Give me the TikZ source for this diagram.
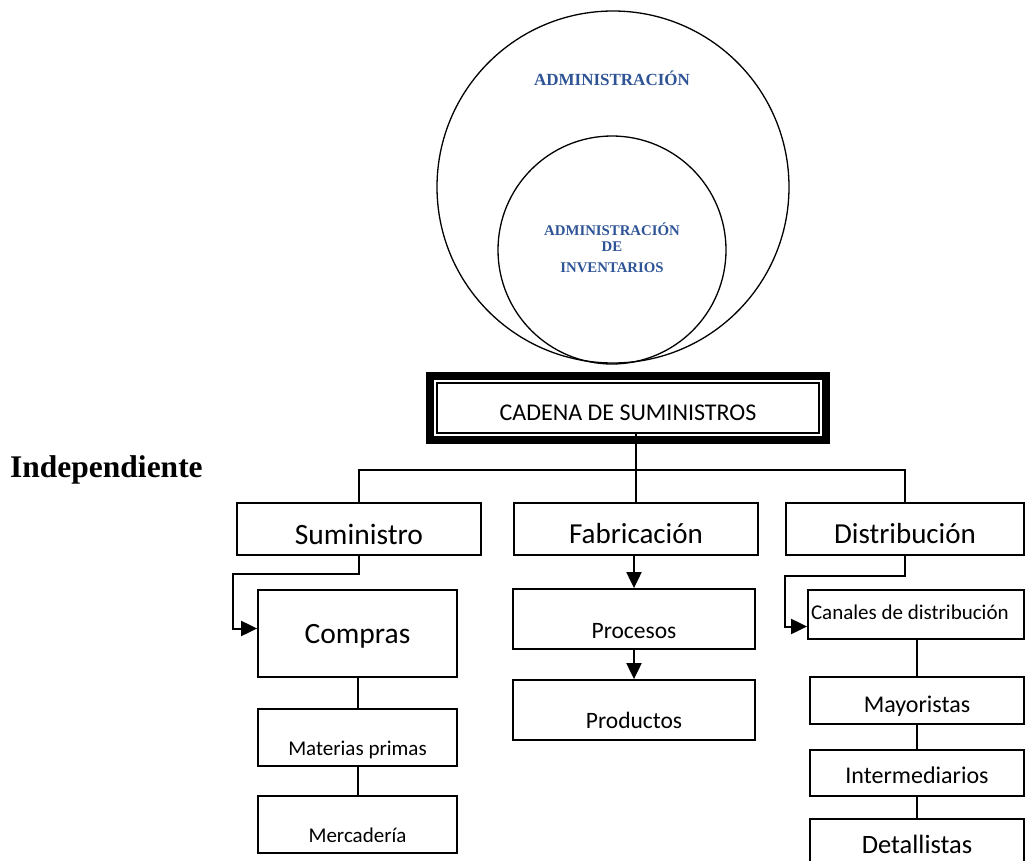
\documentclass[tikz,border=0pt]{standalone}
\usepackage{fontspec}
\setmainfont{Liberation Serif}
\newfontfamily\carlito{Carlito}
\usetikzlibrary{arrows.meta,calc}
\definecolor{admblue}{RGB}{46,84,150}
\newcommand{\sz}[1]{\fontsize{#1}{#1}\selectfont}
\tikzset{box/.style={draw, line width=1.8pt, inner sep=0pt, text depth=0pt, font=\carlito}}
\tikzset{wire/.style={line width=2pt}}
\tikzset{arr/.style={wire, -{Triangle[length=16pt,width=15pt]}}}
\tikzset{ring/.style={circle, draw, line width=1.3pt, inner sep=0pt}}

\begin{document}
\begin{tikzpicture}[x=1pt,y=-1pt]
\clip (0,0) rectangle (1028,861);
% circles
\node[ring, minimum size=352pt] (adm) at (613,187) {};
\node[ring, minimum size=228pt] (inv) at (612,250) {};
\node[font=\bfseries\sz{17}, text=admblue, anchor=base] (admtxt) at (612,86) {ADMINISTRACIÓN};
\node[font=\bfseries\fontsize{14.8}{16}\selectfont, text=admblue, align=center] (invtxt) at (612,248) {ADMINISTRACIÓN\\DE\\[5pt]INVENTARIOS};
\node[font=\bfseries\sz{31.5}, anchor=base west, inner sep=0pt] (indep) at (10,477) {Independiente};
% chain
\node[box, line width=1.5pt, minimum width=382pt, minimum height=50pt, text height=24pt, font=\carlito\sz{24}] (cad) at (628,408) {CADENA DE SUMINISTROS};
\draw[line width=8pt] ($(cad.south west)+(-6,6)$) rectangle ($(cad.north east)+(6,-6)$);
\node[box, minimum width=244pt, minimum height=52pt, text height=30pt, font=\carlito\sz{29.5}] (sum) at (359,529) {Suministro};
\node[box, minimum width=244pt, minimum height=52pt, text height=28pt, font=\carlito\sz{29}] (fab) at (636,529) {Fabricación};
\node[box, minimum width=238pt, minimum height=52pt, text height=28pt, font=\carlito\sz{29}] (dist) at (905,529) {Distribución};
\node[box, minimum width=199pt, minimum height=87pt, text height=19pt, font=\carlito\sz{29.5}] (compras) at (357.5,633.5) {Compras};
\node[box, minimum width=199pt, minimum height=57pt, text height=35pt, font=\carlito\sz{21}] (mat) at (357.5,737.5) {Materias primas};
\node[box, minimum width=199pt, minimum height=57pt, text height=35pt, font=\carlito\sz{21}] (merc) at (357.5,824.5) {Mercadería};
\node[box, minimum width=242pt, minimum height=60pt, text height=38pt, font=\carlito\sz{23.5}] (proc) at (634,619) {Procesos};
\node[box, minimum width=242pt, minimum height=60pt, text height=36pt, font=\carlito\sz{23.5}] (prod) at (634,710) {Productos};
\node[box, minimum height=49pt, inner xsep=3pt, text width=210pt, align=flush left, text height=9pt, font=\carlito\sz{21}] (canal) at (916,614.5) {Canales de distribución};
\node[box, minimum width=214pt, minimum height=47pt, text height=23pt, font=\carlito\sz{24}] (may) at (917,700.5) {Mayoristas};
\node[box, minimum width=214pt, minimum height=46pt, text height=20pt, font=\carlito\sz{24}] (inter) at (917,773) {Intermediarios};
\node[box, minimum width=214pt, minimum height=61pt, text height=7pt, font=\carlito\sz{26.5}] (det) at (917,849.5) {Detallistas};
% connectors
\draw[wire] (cad.south -| fab.north) -- (fab.north);
\draw[wire] (sum.north) -- ++(0,-32) -| (dist.north);
\draw[arr] (sum.south) -- ++(0,18) -| ($(compras.west)+(-24,-5)$) -- ($(compras.west)+(0,-5)$);
\draw[wire] (compras) -- (mat);
\draw[wire] (mat) -- (merc);
\draw[arr] (fab.south -| proc.north) -- (proc.north);
\draw[arr] (proc) -- (prod);
\draw[arr] (dist.south) -- ++(0,20) -| ($(canal.west)+(-22,12)$) -- ($(canal.west)+(0,12)$);
\draw[wire] (canal.south -| may.north) -- (may.north);
\draw[wire] (may) -- (inter);
\draw[wire] (inter) -- (det);
\end{tikzpicture}
\end{document}
